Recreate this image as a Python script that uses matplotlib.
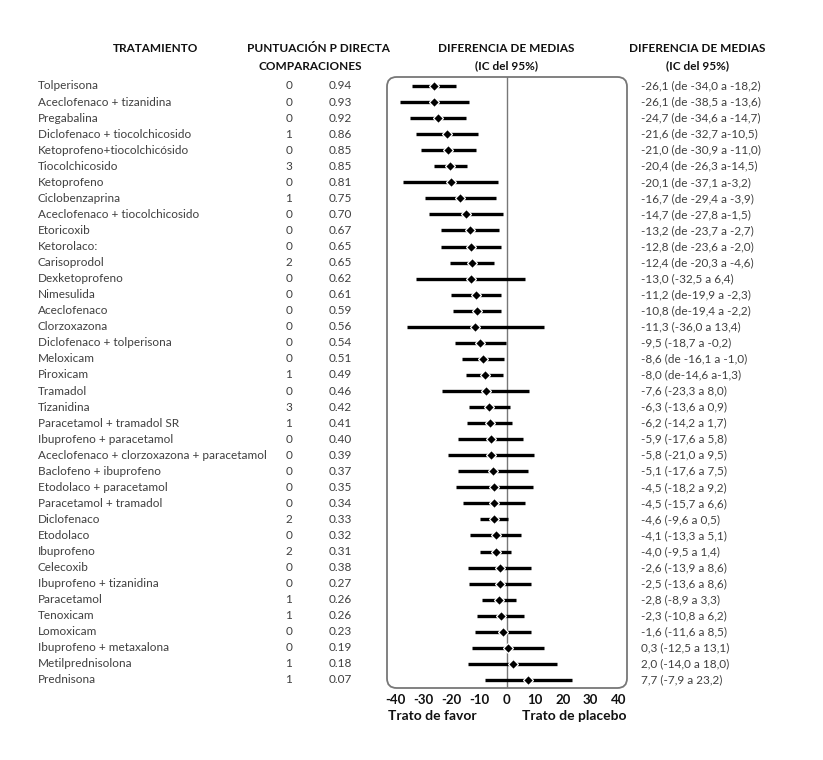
import numpy as np
import matplotlib
matplotlib.use('Agg')
import matplotlib.pyplot as plt
from matplotlib.patches import FancyBboxPatch
from matplotlib.transforms import blended_transform_factory

plt.rcParams['font.family'] = ['Lato', 'DejaVu Sans']

tratamientos = ['Tolperisona', 'Aceclofenaco + tizanidina', 'Pregabalina',
                'Diclofenaco + tiocolchicosido', 'Ketoprofeno+tiocolchicósido',
                'Tiocolchicosido', 'Ketoprofeno', 'Ciclobenzaprina',
                'Aceclofenaco + tiocolchicosido', 'Etoricoxib', 'Ketorolaco:',
                'Carisoprodol', 'Dexketoprofeno', 'Nimesulida', 'Aceclofenaco',
                'Clorzoxazona', 'Diclofenaco + tolperisona', 'Meloxicam', 'Piroxicam',
                'Tramadol', 'Tizanidina', 'Paracetamol + tramadol SR',
                'Ibuprofeno + paracetamol', 'Aceclofenaco + clorzoxazona + paracetamol',
                'Baclofeno + ibuprofeno', 'Etodolaco + paracetamol',
                'Paracetamol + tramadol', 'Diclofenaco', 'Etodolaco', 'Ibuprofeno',
                'Celecoxib', 'Ibuprofeno + tizanidina', 'Paracetamol', 'Tenoxicam',
                'Lomoxicam', 'Ibuprofeno + metaxalona', 'Metilprednisolona', 'Prednisona']
comparaciones = [0, 0, 0, 1, 0, 3, 0, 1, 0, 0, 0, 2, 0, 0, 0, 0, 0, 0, 1,
                 0, 3, 1, 0, 0, 0, 0, 0, 2, 0, 2, 0, 0, 1, 1, 0, 0, 1, 1]
puntuacion_p = ['0.94', '0.93', '0.92', '0.86', '0.85', '0.85', '0.81', '0.75',
                '0.70', '0.67', '0.65', '0.65', '0.62', '0.61', '0.59', '0.56',
                '0.54', '0.51', '0.49', '0.46', '0.42', '0.41', '0.40', '0.39',
                '0.37', '0.35', '0.34', '0.33', '0.32', '0.31', '0.38', '0.27',
                '0.26', '0.26', '0.23', '0.19', '0.18', '0.07']
media = [-26.1, -26.1, -24.7, -21.6, -21.0, -20.4, -20.1, -16.7, -14.7, -13.2,
         -12.8, -12.4, -13.0, -11.2, -10.8, -11.3, -9.5, -8.6, -8.0, -7.6,
         -6.3, -6.2, -5.9, -5.8, -5.1, -4.5, -4.5, -4.6, -4.1, -4.0,
         -2.6, -2.5, -2.8, -2.3, -1.6, 0.3, 2.0, 7.7]
ic_inf = [-34.0, -38.5, -34.6, -32.7, -30.9, -26.3, -37.1, -29.4, -27.8, -23.7,
          -23.6, -20.3, -32.5, -19.9, -19.4, -36.0, -18.7, -16.1, -14.6, -23.3,
          -13.6, -14.2, -17.6, -21.0, -17.6, -18.2, -15.7, -9.6, -13.3, -9.5,
          -13.9, -13.6, -8.9, -10.8, -11.6, -12.5, -14.0, -7.9]
ic_sup = [-18.2, -13.6, -14.7, -10.5, -11.0, -14.5, -3.2, -3.9, -1.5, -2.7,
          -2.0, -4.6, 6.4, -2.3, -2.2, 13.4, -0.2, -1.0, -1.3, 8.0,
          0.9, 1.7, 5.8, 9.5, 7.5, 9.2, 6.6, 0.5, 5.1, 1.4,
          8.6, 8.6, 3.3, 6.2, 8.5, 13.1, 18.0, 23.2]
ic_texto = ['-26,1 (de -34,0 a -18,2)', '-26,1 (de -38,5 a -13,6)', '-24,7 (de -34,6 a -14,7)',
            '-21,6 (de -32,7 a-10,5)', '-21,0 (de -30,9 a -11,0)', '-20,4 (de -26,3 a-14,5)',
            '-20,1 (de -37,1 a-3,2)', '-16,7 (de -29,4 a -3,9)', '-14,7 (de -27,8 a-1,5)',
            '-13,2 (de -23,7 a -2,7)', '-12,8 (de -23,6 a -2,0)', '-12,4 (de -20,3 a -4,6)',
            '-13,0 (-32,5 a 6,4)', '-11,2 (de-19,9 a -2,3)', '-10,8 (de-19,4 a -2,2)',
            '-11,3 (-36,0 a 13,4)', '-9,5 (-18,7 a -0,2)', '-8,6 (de -16,1 a -1,0)',
            '-8,0 (de-14,6 a-1,3)', '-7,6 (-23,3 a 8,0)', '-6,3 (-13,6 a 0,9)',
            '-6,2 (-14,2 a 1,7)', '-5,9 (-17,6 a 5,8)', '-5,8 (-21,0 a 9,5)',
            '-5,1 (-17,6 a 7,5)', '-4,5 (-18,2 a 9,2)', '-4,5 (-15,7 a 6,6)',
            '-4,6 (-9,6 a 0,5)', '-4,1 (-13,3 a 5,1)', '-4,0 (-9,5 a 1,4)',
            '-2,6 (-13,9 a 8,6)', '-2,5 (-13,6 a 8,6)', '-2,8 (-8,9 a 3,3)',
            '-2,3 (-10,8 a 6,2)', '-1,6 (-11,6 a 8,5)', '0,3 (-12,5 a 13,1)',
            '2,0 (-14,0 a 18,0)', '7,7 (-7,9 a 23,2)']
ticks_x = [-40, -30, -20, -10, 0, 10, 20, 30, 40]

fig = plt.figure(figsize=(8.23, 7.6), dpi=100)
W, H = 823, 760
ax = fig.add_axes([387 / W, 1 - 688 / H, 240 / W, 611 / H])

n = len(tratamientos)
y = np.arange(n)
for i in range(n):
    ax.plot([ic_inf[i], ic_sup[i]], [y[i], y[i]], color='black', lw=2.4,
            solid_capstyle='butt', zorder=2)
ax.plot(media, y, linestyle='none', marker='D', ms=5, color='black',
        markeredgecolor='white', markeredgewidth=0.9, zorder=3)
ax.axvline(0, color='#777777', lw=1, zorder=1)

ax.set_xlim(-43, 43)
ax.set_ylim(n - 0.5, -0.56)
ax.set_xticks(ticks_x)
ax.set_xticklabels([str(t) for t in ticks_x], fontweight='bold', fontsize=9.5)
ax.tick_params(axis='x', length=0, pad=4, colors='#111111')
ax.set_yticks([])
for s in ax.spines.values():
    s.set_visible(False)

box = FancyBboxPatch((0, 0), 1, 1, boxstyle='round,pad=0,rounding_size=0.04',
                     transform=ax.transAxes, mutation_aspect=240 / 611,
                     fill=False, edgecolor='#777777', lw=1.3, clip_on=False)
ax.add_patch(box)

# columnas de texto
tr = blended_transform_factory(fig.transFigure, ax.transData)
gris = '#3f3f3f'
for i in range(n):
    fig.text(38 / W, y[i], tratamientos[i], transform=tr, fontsize=8.5,
             color=gris, va='center', ha='left')
    fig.text(289 / W, y[i], str(comparaciones[i]), transform=tr, fontsize=8.5,
             color=gris, va='center', ha='center')
    fig.text(340 / W, y[i], puntuacion_p[i], transform=tr, fontsize=8.5,
             color=gris, va='center', ha='center')
    fig.text(641 / W, y[i], ic_texto[i], transform=tr, fontsize=8.5,
             color=gris, va='center', ha='left')

# encabezados
hk = dict(fontsize=8.5, fontweight='bold', color='#111111', ha='center', va='center')
fig.text(156 / W, 1 - 49 / H, 'TRATAMIENTO', **hk)
fig.text(318 / W, 1 - 49 / H, 'PUNTUACIÓN P DIRECTA', **hk)
fig.text(310 / W, 1 - 66 / H, 'COMPARACIONES', **hk)
fig.text(506 / W, 1 - 49 / H, 'DIFERENCIA DE MEDIAS', **hk)
fig.text(506 / W, 1 - 66 / H, '(IC del 95%)', **hk)
fig.text(697 / W, 1 - 49 / H, 'DIFERENCIA DE MEDIAS', **hk)
fig.text(697 / W, 1 - 66 / H, '(IC del 95%)', **hk)

fig.text(388 / W, 1 - 716 / H, 'Trato de favor', fontsize=10, fontweight='bold',
         color='#111111', ha='left', va='center')
fig.text(627 / W, 1 - 716 / H, 'Trato de placebo', fontsize=10, fontweight='bold',
         color='#111111', ha='right', va='center')

fig.savefig('out.png', dpi=100)
